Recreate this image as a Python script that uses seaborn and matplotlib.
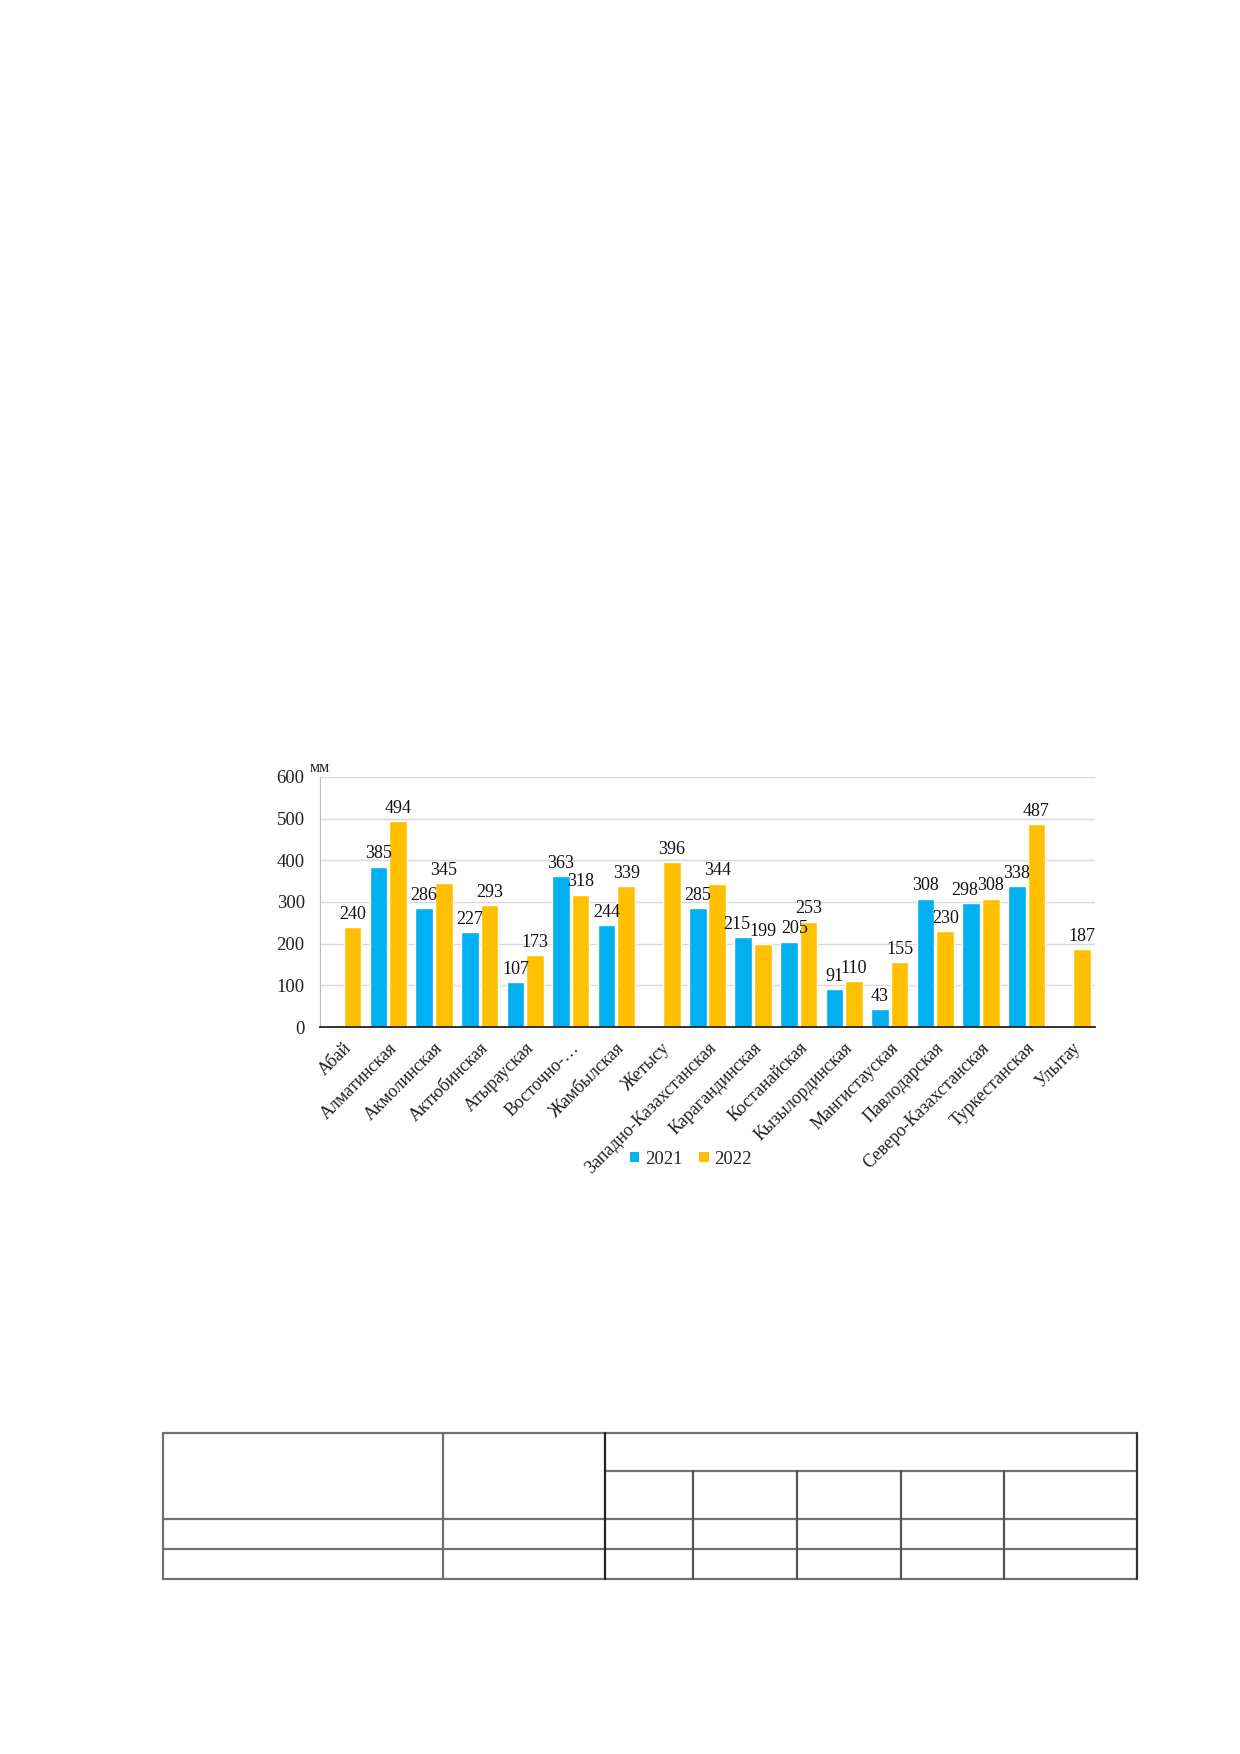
import pandas as pd
import numpy as np
import seaborn as sns
from matplotlib import pyplot as plt
from matplotlib.lines import Line2D
from matplotlib.patches import Patch


# Regions (x axis) and precipitation per year, mm
regions = ['Абай', 'Алматинская', 'Акмолинская', 'Актюбинская', 'Атырауская',
           'Восточно-…', 'Жамбылская', 'Жетысу', 'Западно-Казахстанская',
           'Карагандинская', 'Костанайская', 'Кызылординская', 'Мангистауская',
           'Павлодарская', 'Северо-Казахстанская', 'Туркестанская', 'Улытау']
values_2021 = [np.nan, 385, 286, 227, 107, 363, 244, np.nan, 285, 215, 205, 91, 43, 308, 298, 338, np.nan]
values_2022 = [240, 494, 345, 293, 173, 318, 339, 396, 344, 199, 253, 110, 155, 230, 308, 487, 187]
years = ['2021', '2022']
y_ticks = [0, 100, 200, 300, 400, 500, 600]

colors = {'2021': '#00B0F0', '2022': '#FFC000'}

# long table for seaborn
df = pd.DataFrame({
    'region': regions * 2,
    'year': ['2021'] * len(regions) + ['2022'] * len(regions),
    'value': values_2021 + values_2022,
})

sns.set_style('white')
plt.rcParams['font.family'] = ['Liberation Serif', 'DejaVu Serif']

W, H = 1240, 1754
fig = plt.figure(figsize=(W / 100, H / 100), dpi=100)
ax = fig.add_axes([320 / W, 1 - 1027 / H, 775 / W, 250 / H])

sns.barplot(data=df, x='region', y='value', hue='year', order=regions, hue_order=years,
            palette=colors, width=0.86, gap=0.1, saturation=1, errorbar=None, ax=ax)

# value labels over bars, a few crowded ones nudged sideways (as Excel does)
nudge = {('2021', '298'): -4.5, ('2021', '215'): -5, ('2021', '205'): 4.5}
for year, cont in zip(years, ax.containers):
    anns = ax.bar_label(cont, fmt='%d', padding=3, fontsize=13, color='#111111')
    for a in anns:
        dx = nudge.get((year, a.get_text()), 0)
        if dx:
            a.xyann = (dx, 3)

ax.set_ylim(0, 600)
ax.set_xlim(-0.5, len(regions) - 0.5)
ax.set_yticks(y_ticks)
ax.yaxis.grid(True, color='#D9D9D9', linewidth=1)
ax.set_axisbelow(True)
ax.set_xlabel('')
ax.set_ylabel('')
ax.tick_params(axis='y', length=0, pad=11, labelsize=13.5, labelcolor='#222222')
ax.tick_params(axis='x', length=0, pad=9, labelsize=13, labelcolor='#222222')
plt.setp(ax.get_xticklabels(), rotation=45, ha='right', rotation_mode='anchor')

for s in ['top', 'right']:
    ax.spines[s].set_visible(False)
ax.spines['left'].set_color('#BFBFBF')
ax.spines['bottom'].set_color('#222222')
ax.spines['bottom'].set_linewidth(1.3)

ax.text(0.0, 1.036, 'мм', transform=ax.transAxes, ha='center', va='center', fontsize=11.5)

# legend below the chart
ax.get_legend().remove()
handles = [Patch(facecolor=colors[y], edgecolor='none') for y in years]
fig.legend(handles, years, loc='center', bbox_to_anchor=(691 / W, 1 - 1159 / H),
           ncol=2, frameon=False, fontsize=13.5, handlelength=0.5, handleheight=0.5,
           handletextpad=0.3, columnspacing=0.9)


# Empty table under the chart (only grid lines)
def line(x0, y0, x1, y1, color='#707070'):
    fig.add_artist(Line2D([x0 / W, x1 / W], [1 - y0 / H, 1 - y1 / H],
                          transform=fig.transFigure, color=color, linewidth=1.6))

left, right, top, bottom = 163, 1137, 1433, 1579
line(left, top, right, top)
line(left, bottom, right, bottom)
line(left, 1519, right, 1519)
line(left, 1549, right, 1549)
line(605, 1471, right, 1471)
line(left, top, left, bottom)
line(right, top, right, bottom, color='#333333')
line(443, top, 443, bottom)
line(605, top, 605, bottom, color='#222222')
for xc in [693, 797, 901, 1004]:
    line(xc, 1471, xc, bottom, color='#555555')

plt.savefig('out.png', dpi=100)
